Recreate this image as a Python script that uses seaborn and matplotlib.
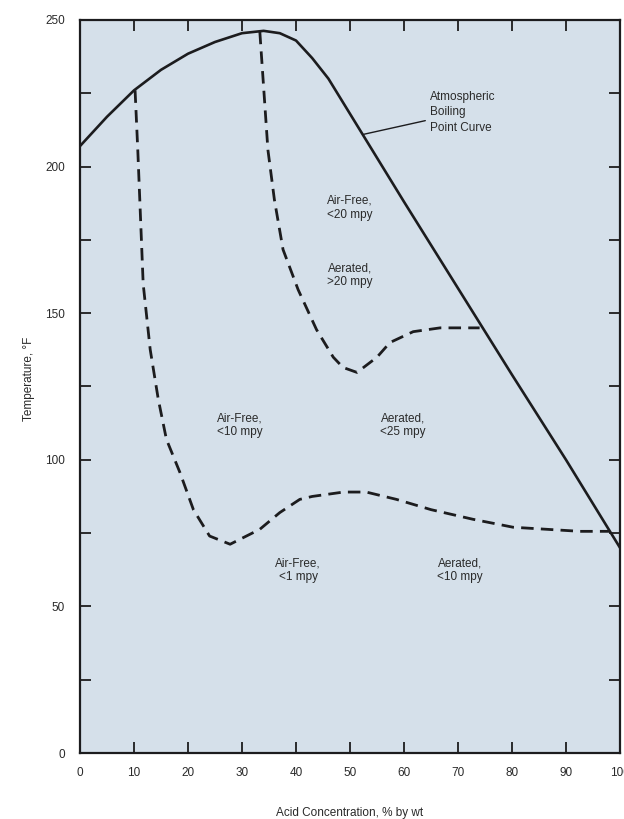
import matplotlib
matplotlib.use("Agg")
import matplotlib.pyplot as plt
import seaborn as sns
import pandas as pd

# Atmospheric boiling point curve (acid concentration %, temperature °F)
boil_conc = [0, 5, 10, 15, 20, 25, 30, 34, 37, 40, 43, 46, 48, 52, 60, 70, 80, 90, 100]
boil_temp = [207, 217, 226, 233, 238.5, 242.5, 245.5, 246.3, 245.5, 243, 237, 230, 224,
             212, 188, 158.5, 129, 100, 70]

# Lower iso-corrosion boundary (dashed)
low_conc = [10.2, 10.7, 11.7, 13.0, 14.5, 16.0, 18.5, 21.0, 24.0, 27.8, 33.3, 37.0,
            40.7, 43.0, 48.8, 53.0, 58.6, 65.0, 72.8, 80.2, 92.6, 98.0]
low_temp = [226, 205.7, 160, 137.6, 120.6, 107, 95.7, 83, 74, 71.2, 76.3, 82,
            86.5, 87.5, 89, 89, 86.5, 83, 79.7, 77, 75.6, 75.6]

# Upper iso-corrosion boundary (dashed)
up_conc = [33.3, 34.8, 36.0, 37.6, 40.4, 43.8, 46.9, 48.7, 51.3, 55.0, 57.4, 61.7, 66.7, 74.0]
up_temp = [246, 205.7, 188.7, 171.7, 158, 144.4, 135, 131.5, 129.8, 135, 140, 143.7, 145, 145]

# Region labels: (text, concentration, temperature)
region_text = ["Air-Free,\n<20 mpy", "Aerated,\n>20 mpy", "Air-Free,\n<10 mpy",
               "Aerated,\n<25 mpy", "Air-Free,\n<1 mpy", "Aerated,\n<10 mpy"]
region_x = [50, 50, 29.6, 59.8, 40.4, 70.4]
region_y = [186, 163, 111.7, 111.7, 62.3, 62.3]

x_ticks = list(range(0, 101, 10))
y_ticks = [0, 50, 100, 150, 200, 250]
y_minor = [25, 75, 125, 175, 225]

sns.set_theme(style="ticks")
font = ["Liberation Sans Narrow", "Liberation Sans", "DejaVu Sans"]
plt.rcParams["font.family"] = font

fig = plt.figure(figsize=(6.24, 8.19), dpi=100)
ax = fig.add_axes([80 / 624, 1 - 753 / 819, 540 / 624, 733 / 819])
ax.set_facecolor("#d5e0ea")

ink = "#1c1c1e"
txt = "#2a2a2a"
fs = 8.5
boil = pd.DataFrame({"conc": boil_conc, "temp": boil_temp})
low = pd.DataFrame({"conc": low_conc, "temp": low_temp})
up = pd.DataFrame({"conc": up_conc, "temp": up_temp})

sns.lineplot(data=boil, x="conc", y="temp", ax=ax, color=ink, lw=1.9,
             sort=False, estimator=None)
dash = (0, (4.5, 2.6))
sns.lineplot(data=low, x="conc", y="temp", ax=ax, color=ink, lw=2.0,
             linestyle=dash, sort=False, estimator=None)
sns.lineplot(data=up, x="conc", y="temp", ax=ax, color=ink, lw=2.0,
             linestyle=dash, sort=False, estimator=None)

for t, x, y in zip(region_text, region_x, region_y):
    ax.text(x, y, t, ha="center", va="center", fontsize=fs, color=txt,
            linespacing=1.2)

ax.annotate("Atmospheric\nBoiling\nPoint Curve", xy=(52.5, 211), xytext=(64.8, 218.5),
            ha="left", va="center", fontsize=fs, color=txt, linespacing=1.35,
            arrowprops=dict(arrowstyle="-", color=ink, lw=1.0, shrinkA=1, shrinkB=0))

ax.set_xlim(0, 100)
ax.set_ylim(0, 250)
ax.set_xticks(x_ticks)
ax.set_xticklabels([str(v) for v in x_ticks])
ax.set_yticks(y_ticks)
ax.set_yticklabels([str(v) for v in y_ticks])
ax.set_yticks(y_minor, minor=True)

ax.tick_params(axis="both", which="both", direction="in", top=True, right=True,
               length=8, width=1.3, color=ink, labelsize=fs, labelcolor=txt)
ax.tick_params(axis="x", pad=10)
ax.tick_params(axis="y", pad=11)
for s in ax.spines.values():
    s.set_color(ink)
    s.set_linewidth(1.6)

ax.set_xlabel("Acid Concentration, % by wt", fontsize=fs, color=txt, labelpad=20)
ax.set_ylabel("Temperature, °F", fontsize=fs, color=txt, labelpad=2)
ax.yaxis.set_label_coords(-0.083, 0.51)

fig.savefig("out.png", dpi=100)
